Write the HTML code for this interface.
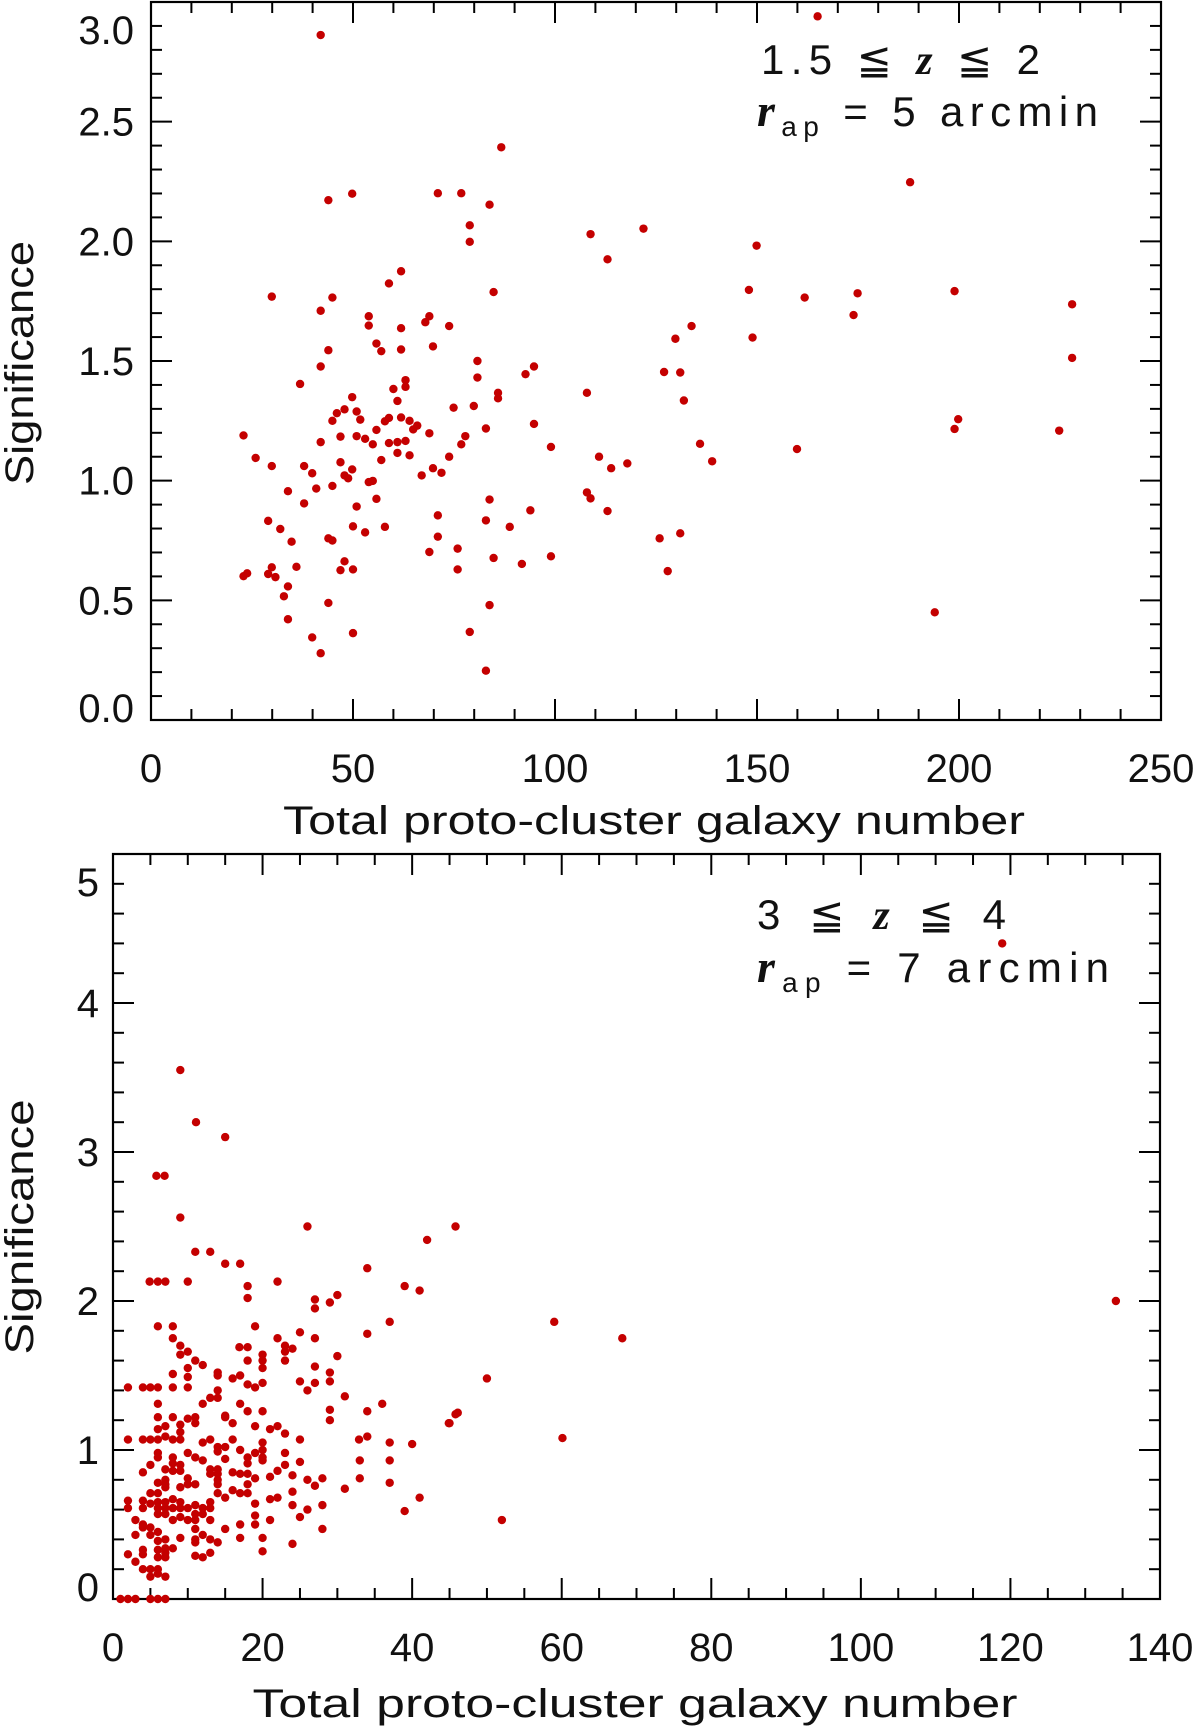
<!DOCTYPE html>
<html><head><meta charset="utf-8"><style>
html,body{margin:0;padding:0;background:#fff;}
svg{display:block;}
text{font-family:"Liberation Sans",sans-serif;fill:#111;}
</style></head><body>
<svg id="chart" width="1200" height="1730" viewBox="0 0 1200 1730" xmlns="http://www.w3.org/2000/svg">
<g id="top"></g>
<g id="bot"></g>
<text x="761" y="74" font-size="42" textLength="279" lengthAdjust="spacing">1.5 ≦ <tspan font-family="Liberation Serif" font-style="italic" font-weight="bold">z</tspan> ≦ 2</text>
<text x="757" y="126" font-size="42" textLength="341" lengthAdjust="spacing"><tspan font-family="Liberation Serif" font-style="italic" font-weight="bold" font-size="46">r</tspan><tspan font-size="28" dy="10">ap</tspan><tspan dy="-10"> = 5 arcmin</tspan></text>
<text x="757" y="929" font-size="42" textLength="249" lengthAdjust="spacing">3 ≦ <tspan font-family="Liberation Serif" font-style="italic" font-weight="bold">z</tspan> ≦ 4</text>
<text x="757" y="982" font-size="42" textLength="352" lengthAdjust="spacing"><tspan font-family="Liberation Serif" font-style="italic" font-weight="bold" font-size="46">r</tspan><tspan font-size="28" dy="10">ap</tspan><tspan dy="-10"> = 7 arcmin</tspan></text>
</svg>
<script>
// ---- top panel data (1.5<=z<=2) ----
const topX = [42.0,165.0,86.7,187.9,49.8,43.9,71.0,76.8,83.8,78.9,78.9,121.9,108.8,149.9,113.0,61.9,58.9,84.8,29.9,44.9,148.0,161.8,174.9,198.9,228.0,173.9,42.0,53.9,68.9,67.9,73.8,53.9,61.9,133.8,129.8,148.9,55.8,69.8,43.9,57.0,61.9,228.0,80.8,42.0,94.8,80.8,63.0,63.0,92.7,127.0,131.0,36.9,85.9,85.9,107.9,131.9,60.0,49.8,61.0,47.9,46.0,50.9,74.9,79.9,44.9,51.8,58.9,61.9,57.9,64.0,65.9,64.9,94.8,199.8,198.9,224.8,55.8,68.9,82.9,77.8,22.9,46.9,50.9,53.0,54.9,58.9,61.0,63.0,42.0,76.8,135.9,99.0,159.9,61.0,64.0,73.8,110.9,25.9,57.0,46.9,138.9,117.9,29.9,37.9,69.8,113.9,49.8,39.9,71.9,67.0,47.9,48.8,54.9,53.9,40.9,44.9,33.9,107.9,108.8,37.9,83.8,55.8,50.9,93.9,113.0,71.0,29.0,82.9,50.0,88.8,57.9,32.0,53.0,131.0,71.0,125.9,43.9,44.9,34.8,75.9,68.9,99.0,84.8,47.9,91.8,36.0,29.9,46.9,50.0,75.9,127.9,29.0,30.8,23.8,22.9,33.9,32.9,43.9,83.8,194.0,33.9,50.0,78.9,39.9,42.0,82.9];
const topY = [2.862,2.94,2.393,2.247,2.199,2.172,2.201,2.201,2.153,2.067,1.998,2.053,2.030,1.982,1.925,1.875,1.824,1.788,1.769,1.765,1.797,1.765,1.783,1.792,1.737,1.692,1.71,1.687,1.687,1.662,1.646,1.648,1.637,1.646,1.593,1.598,1.573,1.561,1.545,1.541,1.548,1.513,1.5,1.477,1.477,1.431,1.42,1.392,1.445,1.454,1.452,1.404,1.367,1.344,1.367,1.335,1.383,1.349,1.333,1.298,1.282,1.289,1.305,1.312,1.25,1.255,1.262,1.264,1.248,1.25,1.23,1.214,1.237,1.257,1.216,1.209,1.212,1.198,1.218,1.186,1.189,1.184,1.186,1.175,1.152,1.157,1.161,1.166,1.161,1.152,1.154,1.141,1.132,1.116,1.106,1.1,1.1,1.095,1.086,1.077,1.081,1.072,1.061,1.061,1.052,1.052,1.047,1.031,1.033,1.022,1.022,1.01,0.999,0.994,0.967,0.978,0.956,0.951,0.926,0.905,0.921,0.924,0.892,0.876,0.873,0.855,0.832,0.834,0.809,0.807,0.807,0.798,0.784,0.78,0.766,0.759,0.759,0.75,0.745,0.716,0.702,0.684,0.677,0.663,0.652,0.64,0.638,0.626,0.629,0.629,0.622,0.61,0.597,0.613,0.601,0.558,0.517,0.489,0.48,0.45,0.421,0.363,0.368,0.345,0.279,0.206];
const topXTicks = ["0","50","100","150","200","250"];
const topYTicks = ["0.0","0.5","1.0","1.5","2.0","2.5","3.0"];

// ---- bottom panel data (3<=z<=4) ----
const botX = [9,11.1,15,5.8,6.9,118.9,134.1,59,68.1,50,60.1,52,46.1,45,
9,26,42,45.8,11,13,15,17,34,4.9,6,7,10,22,18,18,39,41,27,27,30,29,37,6,8,19,8,22,27,25,34,9,9,10,16.9,18,23,23,24,23,20,20,20,18,30,11,12,10,10,10,14,14,8,16,17,27,29,29,25,27,26,18,19,20,2,4,5,6,8,14,14,13,31,6,12,17,18,20,29,29,34,36,45.8,44.9,6,8,10,11,11,15,15,16,7,6,9,9,19,21,22,23,2,4,5,6,7,8,9,12,13,16,14,15,14,20,20,25,32.9,34,37,40,10,6,6,17,19,8,9,8,9,5,11,12,15,18,18,20,20,23,23,25,33,37,4,7,8,7,13,14,13,14,16,17,18,19,21,22,24,10,10,11,14,14,6,7,7,9,26,27,28,33,37,31,16,17,18,18,24,5,6,14,15,8,9,2,2,4,4,5,6,6,7,7,6,7,8,9,8,9,10,11,11,12,13,13,12,10,11,13,19,21,22,24,26,28,39,41,19,19,21,17,25,28,3,4,4,5,5,6,3,11,12,13,14,15,9,6,7,7,8,11,11,17,20,24,2,4,4,6,6,7,7,11,12,13,20,3,4,5,6,5,6,7,1,2,3,5,6,7];
const botY = [3.55,3.2,3.1,2.84,2.84,4.4,2.0,1.86,1.75,1.48,1.08,0.53,1.25,1.18,
2.56,2.50,2.41,2.50,2.33,2.33,2.25,2.25,2.22,2.13,2.13,2.13,2.13,2.13,2.10,2.02,2.10,2.07,2.01,1.95,2.04,1.99,1.86,1.83,1.83,1.83,1.75,1.75,1.75,1.79,1.78,1.70,1.64,1.66,1.69,1.69,1.70,1.66,1.68,1.60,1.64,1.60,1.55,1.60,1.63,1.60,1.57,1.55,1.49,1.42,1.52,1.50,1.51,1.48,1.50,1.56,1.52,1.46,1.46,1.45,1.40,1.44,1.42,1.45,1.42,1.42,1.42,1.42,1.42,1.40,1.35,1.35,1.36,1.31,1.31,1.31,1.26,1.26,1.27,1.20,1.26,1.31,1.24,1.18,1.22,1.22,1.21,1.22,1.18,1.23,1.22,1.18,1.16,1.14,1.17,1.12,1.16,1.14,1.16,1.11,1.07,1.07,1.07,1.07,1.09,1.07,1.07,1.05,1.07,1.07,1.02,1.02,0.99,1.05,1.00,1.07,1.07,1.09,1.05,1.04,0.98,0.98,0.95,1.00,0.98,0.95,0.90,0.91,0.86,0.90,0.95,0.93,0.94,0.95,0.91,0.95,0.93,0.98,0.90,0.92,0.93,0.93,0.85,0.87,0.86,0.80,0.87,0.87,0.84,0.84,0.85,0.84,0.84,0.81,0.82,0.86,0.83,0.81,0.77,0.77,0.80,0.77,0.78,0.77,0.75,0.75,0.80,0.76,0.81,0.81,0.78,0.74,0.73,0.71,0.77,0.71,0.72,0.71,0.71,0.71,0.68,0.67,0.65,0.66,0.61,0.66,0.61,0.64,0.65,0.61,0.65,0.61,0.57,0.57,0.61,0.61,0.53,0.55,0.61,0.63,0.57,0.61,0.61,0.65,0.57,0.53,0.53,0.53,0.64,0.67,0.68,0.63,0.60,0.63,0.59,0.68,0.56,0.50,0.53,0.50,0.55,0.47,0.53,0.50,0.48,0.48,0.43,0.45,0.43,0.47,0.43,0.40,0.38,0.47,0.41,0.39,0.40,0.34,0.34,0.40,0.38,0.41,0.41,0.37,0.30,0.33,0.30,0.33,0.28,0.28,0.31,0.29,0.28,0.31,0.32,0.25,0.20,0.20,0.20,0.15,0.17,0.15,0,0,0,0,0,0];
const botXTicks = ["0","20","40","60","80","100","120","140"];
const botYTicks = ["0","1","2","3","4","5"];

const NS = "http://www.w3.org/2000/svg";
function mk(parent, tag, attrs) {
  const e = document.createElementNS(NS, tag);
  for (const k in attrs) e.setAttribute(k, attrs[k]);
  parent.appendChild(e);
  return e;
}

function panel(g, cfg) {
  const {L, R, T, B, xmin, xmax, ymin, ymax, xs, ys, xTicks, yTicks, xMinor, yMinor, xLabY, yLabX, titleY, titleCx, titleLen, ytCy, ytLen, prefix} = cfg;
  const sx = v => L + (v - xmin) / (xmax - xmin) * (R - L);
  const sy = v => B - (v - ymin) / (ymax - ymin) * (B - T);
  const fr = mk(g, 'rect', {x: L, y: T, width: R - L, height: B - T, fill: 'none', stroke: '#000', 'stroke-width': 2.2});
  
  
  const xStep = (xmax - xmin) / (xTicks.length - 1);
  for (let v = xmin; v <= xmax + 1e-9; v += xMinor) {
    const major = Math.abs((v - xmin) / xStep - Math.round((v - xmin) / xStep)) < 1e-6;
    const len = major ? 21 : 11;
    const x = sx(v);
    const t1 = mk(g, 'line', {x1: x, x2: x, y1: B, y2: B - len, stroke: '#000', 'stroke-width': 2});
    
    
    const t2 = mk(g, 'line', {x1: x, x2: x, y1: T, y2: T + len, stroke: '#000', 'stroke-width': 2});
    
    
  }
  const yStep = (ymax - ymin) / (yTicks.length - 1);
  for (let v = ymin; v <= ymax + 1e-9; v += yMinor) {
    const major = Math.abs((v - ymin) / yStep - Math.round((v - ymin) / yStep)) < 1e-6;
    const len = major ? 21 : 11;
    const y = sy(v);
    const t1 = mk(g, 'line', {x1: L, x2: L + len, y1: y, y2: y, stroke: '#000', 'stroke-width': 2});
    
    
    const t2 = mk(g, 'line', {x1: R, x2: R - len, y1: y, y2: y, stroke: '#000', 'stroke-width': 2});
    
    
  }
  xTicks.forEach((lab, i) => {
    const t = mk(g, 'text', {x: sx(xmin + i * xStep), y: xLabY, 'font-size': 40, 'text-anchor': 'middle'});
    t.textContent = lab;
    
    
  });
  yTicks.forEach((lab, i) => {
    let cy = sy(ymin + i * yStep);
    cy = Math.max(T + 28, Math.min(B - 12, cy));
    const t = mk(g, 'text', {x: yLabX, y: cy + 14, 'font-size': 40, 'text-anchor': 'end'});
    t.textContent = lab;
    
    
  });
  const xt = mk(g, 'text', {x: titleCx, y: titleY, 'font-size': 40, 'text-anchor': 'middle', textLength: titleLen, lengthAdjust: 'spacingAndGlyphs'});
  xt.textContent = 'Total proto-cluster galaxy number';
  
  
  const yt = mk(g, 'text', {x: 0, y: 0, 'font-size': 40, 'text-anchor': 'middle', textLength: ytLen, lengthAdjust: 'spacingAndGlyphs', transform: `translate(33,${ytCy}) rotate(-90)`});
  yt.textContent = 'Significance';
  
  
  for (let i = 0; i < xs.length; i++) {
    const c = mk(g, 'circle', {cx: sx(xs[i]), cy: sy(ys[i]), r: 4.2, fill: '#c40000'});
    
    
  }
}

panel(document.getElementById('top'), {L:151, R:1161, T:2, B:720, xmin:0, xmax:250, ymin:0, ymax:3, xs:topX, ys:topY, xTicks:topXTicks, yTicks:topYTicks, xMinor:10, yMinor:0.1, xLabY:782, yLabX:134, titleY:834, titleCx:654, titleLen:742, ytCy:363, ytLen:244, prefix:'top'});
panel(document.getElementById('bot'), {L:113, R:1160, T:854, B:1599, xmin:0, xmax:140, ymin:0, ymax:5, xs:botX, ys:botY, xTicks:botXTicks, yTicks:botYTicks, xMinor:5, yMinor:0.2, xLabY:1661, yLabX:99, titleY:1717, titleCx:635, titleLen:765, ytCy:1227, ytLen:255, prefix:'bottom'});
</script>
</body></html>
